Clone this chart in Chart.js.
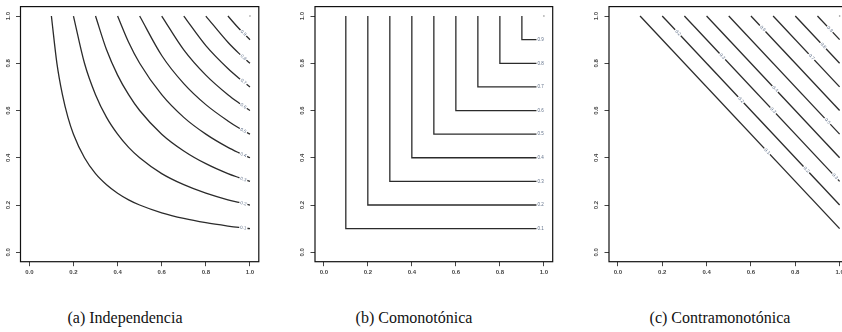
<!DOCTYPE html>
<html>
<head>
<meta charset="utf-8">
<script src="https://cdn.jsdelivr.net/npm/chart.js@4.4.0/dist/chart.umd.min.js"></script>
<style>
body { margin: 0; width: 842px; height: 332px; overflow: hidden; background: #fff; position: relative; }
canvas { position: absolute; top: 0; }
.cap { position: absolute; top: 309px; font-family: "Liberation Serif", serif; font-size: 16px; color: #111; transform: translateX(-50%); white-space: nowrap; }
</style>
</head>
<body>
<canvas id="c1" width="280" height="290" style="left:0px"></canvas>
<canvas id="c2" width="280" height="290" style="left:290px"></canvas>
<canvas id="c3" width="280" height="290" style="left:580px"></canvas>
<div class="cap" style="left:125px">(a) Independencia</div>
<div class="cap" style="left:414px">(b) Comonotónica</div>
<div class="cap" style="left:720px">(c) Contramonotónica</div>

<script>
// contour levels (same for all three copulas)
const levels = [0.1, 0.2, 0.3, 0.4, 0.5, 0.6, 0.7, 0.8, 0.9];
const levelText = ['0.1', '0.2', '0.3', '0.4', '0.5', '0.6', '0.7', '0.8', '0.9'];
const tickVals = [0, 0.2, 0.4, 0.6, 0.8, 1.0];

// independence: points, on a shared u grid (null = curve not there)
const gridX = [0.1, 0.125, 0.15, 0.175, 0.2, 0.25, 0.3, 0.35, 0.4, 0.45, 0.5, 0.6, 0.7, 0.8, 0.9, 0.95, 1.0];
const indepY = [
    [1.000, 0.800, 0.667, 0.571, 0.500, 0.400, 0.333, 0.286, 0.250, 0.222, 0.200, 0.167, 0.143, 0.125, 0.111, 0.105, 0.100],
    [null, null, null, null, 1.000, 0.800, 0.667, 0.571, 0.500, 0.444, 0.400, 0.333, 0.286, 0.250, 0.222, 0.211, 0.200],
    [null, null, null, null, null, null, 1.000, 0.857, 0.750, 0.667, 0.600, 0.500, 0.429, 0.375, 0.333, 0.316, 0.300],
    [null, null, null, null, null, null, null, null, 1.000, 0.889, 0.800, 0.667, 0.571, 0.500, 0.444, 0.421, 0.400],
    [null, null, null, null, null, null, null, null, null, null, 1.000, 0.833, 0.714, 0.625, 0.556, 0.526, 0.500],
    [null, null, null, null, null, null, null, null, null, null, null, 1.000, 0.857, 0.750, 0.667, 0.632, 0.600],
    [null, null, null, null, null, null, null, null, null, null, null, null, 1.000, 0.875, 0.778, 0.737, 0.700],
    [null, null, null, null, null, null, null, null, null, null, null, null, null, 1.000, 0.889, 0.842, 0.800],
    [null, null, null, null, null, null, null, null, null, null, null, null, null, null, 1.000, 0.947, 0.900]
];

// where the level labels sit
const indepLabelX = 0.97;
const indepLabelY = [0.103, 0.206, 0.309, 0.412, 0.515, 0.619, 0.722, 0.825, 0.928];
const comoLabelX = 0.985;
const contraLabelLevel = [0.1, 0.2, 0.2, 0.2, 0.3, 0.3, 0.3, 0.4, 0.5, 0.6, 0.7, 0.8, 0.9];
const contraLabelX = [0.673, 0.271, 0.555, 0.85, 0.471, 0.70, 0.979, 0.709, 0.945, 0.653, 0.873, 0.926, 0.956];
const contraLabelY = [0.427, 0.929, 0.645, 0.35, 0.829, 0.60, 0.321, 0.691, 0.555, 0.947, 0.827, 0.874, 0.944];

const lineColor = '#2b2b2b';
const labelColor = '#5f6f88';

function lineSet(points, smooth) {
    return {
        data: points,
        showLine: true,
        borderColor: lineColor,
        borderWidth: 1.3,
        pointRadius: 0,
        tension: 0,
        cubicInterpolationMode: smooth ? 'monotone' : 'default'
    };
}

// the degenerate level 1.0 contour is just a dot in the corner
function cornerDot() {
    return { data: [{ x: 1, y: 1 }], showLine: false, pointRadius: 0.8, backgroundColor: '#8a8a8a', borderWidth: 0 };
}

// box around the plot, rotated y labels (R style) and inline contour labels
const rStyle = {
    id: 'rStyle',
    afterDatasetsDraw(chart, args, opts) {
        const { ctx, scales: { x, y } } = chart;
        ctx.save();
        ctx.font = '4.5px "Liberation Sans"';
        ctx.textAlign = 'center';
        ctx.textBaseline = 'middle';
        opts.items.forEach(it => {
            const px = x.getPixelForValue(it.x);
            const py = y.getPixelForValue(it.y);
            const pts = chart.data.datasets[it.ds].data;
            let ang = 0;
            for (let i = 1; i < pts.length; i++) {
                if (pts[i - 1].x <= it.x && pts[i].x >= it.x && pts[i].x !== pts[i - 1].x) {
                    ang = Math.atan2(y.getPixelForValue(pts[i].y) - y.getPixelForValue(pts[i - 1].y),
                        x.getPixelForValue(pts[i].x) - x.getPixelForValue(pts[i - 1].x));
                    break;
                }
            }
            ctx.save();
            ctx.translate(px, py);
            ctx.rotate(ang);
            const w = ctx.measureText(it.text).width;
            ctx.fillStyle = '#fff';
            ctx.fillRect(-w / 2 - 1, -2.5, w + 2, 5);
            ctx.fillStyle = labelColor;
            ctx.fillText(it.text, 0, 0);
            ctx.restore();
        });
        ctx.restore();
    },
    afterDraw(chart) {
        const { ctx, chartArea: a, scales: { y } } = chart;
        ctx.save();
        ctx.strokeStyle = '#111';
        ctx.lineWidth = 1.2;
        ctx.strokeRect(a.left, a.top, a.right - a.left, a.bottom - a.top);
        ctx.font = 'bold 6px "Liberation Sans"';
        ctx.fillStyle = '#444';
        ctx.textAlign = 'center';
        ctx.textBaseline = 'middle';
        tickVals.forEach(v => {
            ctx.save();
            ctx.translate(a.left - 12.5, y.getPixelForValue(v));
            ctx.rotate(-Math.PI / 2);
            ctx.fillText(v.toFixed(1), 0, 0);
            ctx.restore();
        });
        ctx.restore();
    }
};

function axis(isX) {
    return {
        type: 'linear',
        min: -0.04,
        max: 1.04,
        afterBuildTicks: s => { s.ticks = tickVals.map(v => ({ value: v })); },
        afterFit: s => { if (isX) s.height = 20; else s.width = 20; },
        grid: { drawOnChartArea: false, drawTicks: true, tickLength: 4.5, color: '#444', lineWidth: 1 },
        border: { display: false },
        ticks: {
            padding: 3,
            autoSkip: false,
            maxRotation: 0,
            color: isX ? '#444' : 'rgba(0,0,0,0)',
            font: { size: 6, weight: 'bold', family: 'Liberation Sans' },
            callback: v => v.toFixed(1)
        }
    };
}

function makePanel(id, datasets, labels, padLeft, padRight) {
    new Chart(document.getElementById(id), {
        type: 'scatter',
        data: { datasets: datasets },
        options: {
            responsive: false,
            animation: false,
            layout: { padding: { left: padLeft, right: padRight, top: 6.6, bottom: 8.3 } },
            scales: { x: axis(true), y: axis(false) },
            plugins: {
                legend: { display: false },
                tooltip: { enabled: false },
                rStyle: { items: labels }
            }
        },
        plugins: [rStyle]
    });
}

// (a) independence
const indepSets = indepY.map(row => lineSet(gridX.map((u, i) => ({ x: u, y: row[i] })).filter(p => p.y !== null), true));
indepSets.push(cornerDot());
const indepLabels = levels.map((c, i) => ({ ds: i, x: indepLabelX, y: indepLabelY[i], text: levelText[i] }));
makePanel('c1', indepSets, indepLabels, 0.5, 21.2);

// (b) comonotonic: corner at (c, c)
const comoSets = levels.map(c => lineSet([{ x: c, y: 1 }, { x: c, y: c }, { x: 1, y: c }], false));
comoSets.push(cornerDot());
const comoLabels = levels.map((c, i) => ({ ds: i, x: comoLabelX, y: c, text: levelText[i] }));
makePanel('c2', comoSets, comoLabels, 5, 17.3);

// (c) countermonotonic: straight line from (c, 1) to (1, c)
const contraSets = levels.map(c => lineSet([{ x: c, y: 1 }, { x: 1, y: c }], false));
contraSets.push(cornerDot());
const contraLabels = contraLabelLevel.map((c, i) => {
    const k = levels.indexOf(c);
    return { ds: k, x: contraLabelX[i], y: contraLabelY[i], text: levelText[k] };
});
makePanel('c3', contraSets, contraLabels, 9, 11.5);
</script>
</body>
</html>
